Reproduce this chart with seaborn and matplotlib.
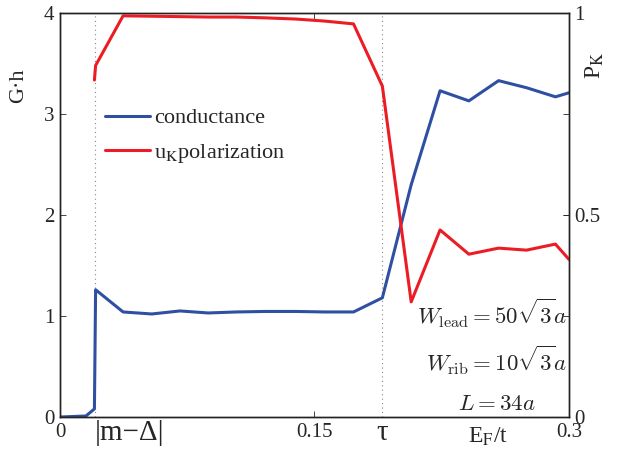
import numpy as np
import pandas as pd
import seaborn as sns
import matplotlib.pyplot as plt
from matplotlib.lines import Line2D

# E_F/t grid
ef = [0, 0.0153, 0.0203, 0.0210, 0.0372, 0.0541, 0.0707, 0.0873, 0.104, 0.121,
      0.139, 0.156, 0.173, 0.190, 0.207, 0.224, 0.241, 0.2585, 0.275, 0.292, 0.300]
# conductance G*h
cond = [0, 0.01, 0.08, 1.26, 1.04, 1.02, 1.05, 1.03, 1.04, 1.045,
        1.045, 1.04, 1.04, 1.18, 2.30, 3.23, 3.13, 3.33, 3.26, 3.17, 3.21]
# valley polarization P_K
pol = [np.nan, np.nan, 0.834, 0.87, 0.993, 0.992, 0.991, 0.99, 0.99, 0.988,
       0.985, 0.98, 0.973, 0.819, 0.285, 0.463, 0.403, 0.418, 0.413, 0.428, 0.39]

m_delta = 0.0205
tau = 0.190

df = pd.DataFrame({"ef": ef, "cond": cond, "pol": pol})

sns.set_style("ticks")
plt.rcParams['font.family'] = ['Liberation Serif', 'DejaVu Serif']
plt.rcParams['mathtext.fontset'] = 'stix'

blue = '#2f4fa2'
red = '#ec1c24'

fig = plt.figure(figsize=(6.17, 4.59), dpi=100)
ax = fig.add_axes([0.0972, 0.0915, 0.8250, 0.8802])
ax2 = ax.twinx()

sns.lineplot(data=df, x="ef", y="cond", ax=ax, color=blue, lw=2.2)
sns.lineplot(data=df.dropna(), x="ef", y="pol", ax=ax2, color=red, lw=2.2)

for xv in [m_delta, tau]:
    ax.axvline(xv, color='#888888', ls=(0, (1, 3)), lw=0.8, zorder=0)

ax.set_xlim(0, 0.3)
ax.set_ylim(0, 4)
ax2.set_ylim(0, 1)

ax.set_xticks([0, 0.15, 0.3], ['0', '0.15', '0.3'])
ax.set_xticks([m_delta, tau], ['|m\u2212\u0394|', '\u03c4'], minor=True)
ax.get_xticklabels(minor=True)[0].set_horizontalalignment('left')
ax.set_yticks([0, 1, 2, 3, 4])
ax2.set_yticks([0, 0.5, 1], ['0', '0.5', '1'])

ax.tick_params(which='major', direction='in', top=True, right=True,
               labelsize=15, length=4, width=0.6, pad=4)
ax.tick_params(axis='x', which='minor', length=0, labelsize=21, pad=2)
ax2.tick_params(direction='in', labelsize=15, length=4, width=0.6, pad=4)

for a in (ax, ax2):
    for s in a.spines.values():
        s.set_linewidth(1.0)
        s.set_color('#222222')

ax.set_xlabel('')
ax.set_ylabel('G\u00b7h', fontsize=16)
ax.yaxis.set_label_coords(-0.062, 0.82)
ax2.set_ylabel('P$_\\mathrm{K}$', fontsize=17)
ax2.yaxis.set_label_coords(1.028, 0.87)

ax.text(0.84, -0.05, 'E$_\\mathrm{F}$/t', transform=ax.transAxes,
        ha='center', va='center', fontsize=17)

handles = [Line2D([], [], color=blue, lw=2.2), Line2D([], [], color=red, lw=2.2)]
ax.legend(handles, ['conductance', 'u$_\\mathrm{K}$polarization'],
          loc='upper left', bbox_to_anchor=(0.05, 0.815), frameon=False,
          fontsize=16, handlelength=2.0, handletextpad=0.2, labelspacing=0.62)

ax.text(0.996, 0.257, r'$W_\mathrm{lead} = 50\sqrt{3}a$', transform=ax.transAxes,
        ha='right', va='center', fontsize=16.5, math_fontfamily='cm')
ax.text(0.996, 0.141, r'$W_\mathrm{rib} = 10\sqrt{3}a$', transform=ax.transAxes,
        ha='right', va='center', fontsize=16.5, math_fontfamily='cm')
ax.text(0.859, 0.03, r'$L = 34a$', transform=ax.transAxes,
        ha='center', va='center', fontsize=16.5, math_fontfamily='cm')

fig.savefig('out.png', dpi=100)
